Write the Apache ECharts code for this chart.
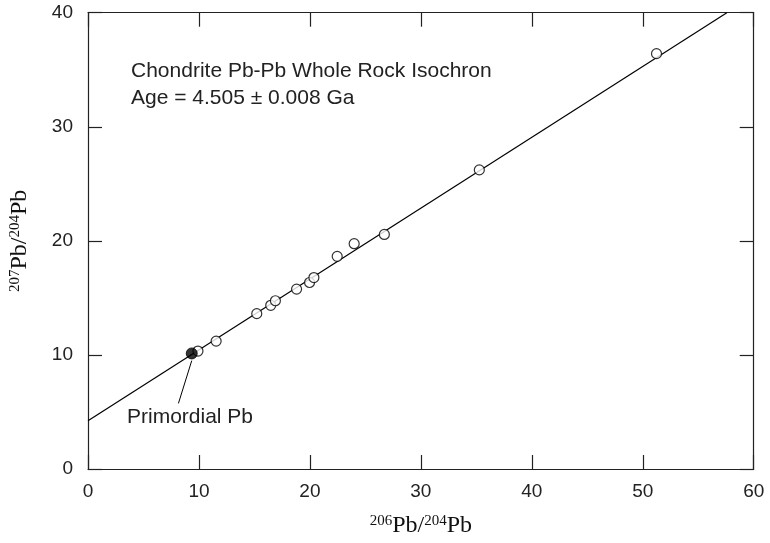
<!DOCTYPE html>
<html><head><meta charset="utf-8">
<script src="https://cdn.jsdelivr.net/npm/echarts@6/dist/echarts.min.js"></script>
<style>html,body{margin:0;padding:0;background:#fff}#c{width:770px;height:543px}</style>
</head><body><div id="c"></div>
<script>
// Sample data (206Pb/204Pb, 207Pb/204Pb)
const samplePoints = [
  [9.91, 10.34], [11.55, 11.21], [15.21, 13.62], [16.47, 14.35], [16.89, 14.75],
  [18.80, 15.77], [19.97, 16.35], [20.36, 16.78], [22.46, 18.64], [23.99, 19.75],
  [26.71, 20.56], [35.27, 26.22], [51.24, 36.41]
];
const primordialPb = [[9.35, 10.13]];
const isochronLine = [[0, 4.24], [57.58, 40]];
const leaderLine = [[9.35, 9.5], [8.15, 5.75]];
const xTicks = [0, 10, 20, 30, 40, 50, 60];
const yTicks = [0, 10, 20, 30, 40];
const titleLines = ['Chondrite Pb-Pb Whole Rock Isochron', 'Age = 4.505 \u00b1 0.008 Ga'];
const primordialLabel = 'Primordial Pb';

const chart = echarts.init(document.getElementById('c'), null, {renderer: 'canvas'});
const axisColor = '#222';
const sans = 'Liberation Sans, Arial, sans-serif';
const serif = 'Liberation Serif, Times New Roman, serif';
const common = {
  axisLine: {show: true, onZero: false, lineStyle: {color: axisColor, width: 1.2}},
  axisTick: {show: true, inside: true, length: 14, lineStyle: {color: axisColor, width: 1.2}},
  splitLine: {show: false}
};
const rich = {
  sup: {fontFamily: serif, fontSize: 15, color: '#111', padding: [0, 0, 9, 0]},
  b: {fontFamily: serif, fontSize: 24, color: '#111'}
};
const option = {
  animation: false,
  backgroundColor: '#fff',
  grid: {left: 85.7, right: 16.3, top: 12.7, bottom: 71, containLabel: false},
  xAxis: [
    Object.assign({type: 'value', min: xTicks[0], max: xTicks[xTicks.length-1], interval: 10, position: 'bottom',
      axisLabel: {color: '#222', fontFamily: sans, fontSize: 19, margin: 13},
      name: '{sup|206}{b|Pb/}{sup|204}{b|Pb}', nameLocation: 'middle', nameGap: 45,
      nameTextStyle: {rich: rich}
    }, common),
    Object.assign({type: 'value', min: xTicks[0], max: xTicks[xTicks.length-1], interval: 10, position: 'top',
      axisLabel: {show: false}}, common)
  ],
  yAxis: [
    Object.assign({type: 'value', min: yTicks[0], max: yTicks[yTicks.length-1], interval: 10, position: 'left',
      axisLabel: {color: '#222', fontFamily: sans, fontSize: 19, margin: 15},
      name: '{sup|207}{b|Pb/}{sup|204}{b|Pb}', nameLocation: 'middle', nameGap: 56, nameRotate: 90,
      nameTextStyle: {rich: rich}
    }, common),
    Object.assign({type: 'value', min: yTicks[0], max: yTicks[yTicks.length-1], interval: 10, position: 'right',
      axisLabel: {show: false}}, common)
  ],
  series: [
    {type: 'line', data: isochronLine, symbol: 'none', lineStyle: {color: '#000', width: 1.2}, z: 1},
    {type: 'line', data: leaderLine, symbol: 'none', lineStyle: {color: '#000', width: 1}, z: 1},
    {type: 'scatter', data: samplePoints, symbol: 'circle', symbolSize: 10,
      itemStyle: {color: '#fff', borderColor: '#000', borderWidth: 1.2}, z: 3},
    {type: 'scatter', data: primordialPb, symbol: 'circle', symbolSize: 11,
      itemStyle: {color: '#000', borderColor: '#000', borderWidth: 1}, z: 4}
  ],
  graphic: [
    {type: 'text', left: 131, top: 61, style: {text: titleLines[0], font: '21px ' + sans, fill: '#222'}},
    {type: 'text', left: 131, top: 88, style: {text: titleLines[1], font: '21px ' + sans, fill: '#222'}},
    {type: 'text', left: 127, top: 407, style: {text: primordialLabel, font: '21px ' + sans, fill: '#222'}}
  ]
};
chart.setOption(option);
</script>
</body></html>
